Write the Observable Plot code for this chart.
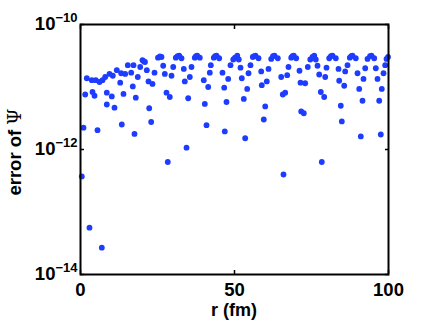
<!DOCTYPE html>
<html><head><meta charset="utf-8">
<script src="https://cdn.jsdelivr.net/npm/d3@7"></script>
<script src="https://cdn.jsdelivr.net/npm/@observablehq/plot@0.6"></script>
<style>body{margin:0;background:#fff} svg{display:block}</style>
</head><body><div id="chart"></div>
<script>
// r (fm) of each point
const r = [
 2.05,3.67,4.97,6.17,7.14,8.02,9.42,10.49,11.79,13.21,14.51,15.36,16.46,17.21,18.60,19.38,20.13,21.53,22.08,23.38,24.03,25.16,
 1.53,3.90,4.55,8.54,10.16,12.89,13.96,16.98,17.95,8.54,11.04,22.31,22.95,
 0.97,5.52,13.41,17.53,
 0.42,2.92,6.92,28.34,34.42,65.91,78.34,
 26.30,26.85,27.37,29.55,27.92,28.99,30.10,30.94,32.05,32.79,33.54,33.86,35.49,34.97,36.04,37.11,37.89,38.73,
 40.03,41.46,40.36,40.91,41.98,42.31,43.28,44.16,45.03,46.10,47.95,46.66,47.40,46.85,48.70,50.16,
 51.95,52.37,54.55,54.12,53.02,53.47,55.19,55.94,56.82,57.79,58.67,58.86,60.49,59.97,59.51,61.04,61.92,62.99,64.06,
 65.16,67.11,65.68,66.46,67.53,68.41,69.25,70.03,71.10,71.43,72.95,71.66,72.50,73.80,75.32,
 76.95,77.50,79.45,78.02,79.12,79.87,80.75,81.82,82.89,83.77,83.99,85.62,85.94,84.51,84.84,86.69,87.44,88.31,89.38,
 89.94,91.88,90.49,91.56,91.01,92.44,93.18,94.48,95.36,95.88,96.43,98.38,97.82,96.98,97.50,98.93,99.35,99.84,
 20.94,20.6,25.8,49.6,50.9,51.4,74.6,75.9,76.4,
 31.5,37.5,43.7,56.4,62.5,68.8,81.3,87.9,94.0
];
// log10 of the error of Psi for each point
const log10Err = [
 -10.86,-10.89,-10.89,-10.92,-10.89,-10.84,-10.79,-10.82,-10.73,-10.78,-10.79,-10.65,-10.77,-10.65,-10.84,-10.68,-10.57,-10.73,-10.91,-10.95,-10.77,-10.53,
 -11.12,-11.08,-11.14,-11.09,-11.15,-10.93,-11.11,-10.99,-11.17,-11.28,-11.33,-11.34,-11.56,
 -11.65,-11.69,-11.60,-11.75,
 -12.43,-13.25,-13.57,-12.20,-11.97,-12.40,-12.20,
 -10.52,-10.66,-10.79,-10.82,-11.09,-11.16,-10.68,-10.53,-10.50,-10.54,-10.71,-10.91,-10.84,-11.18,-10.68,-10.53,-10.50,-10.53,
 -10.89,-11.00,-11.27,-11.61,-10.77,-10.65,-10.53,-10.50,-10.54,-10.77,-10.87,-11.01,-11.24,-11.71,-10.65,-10.53,
 -10.69,-10.86,-10.78,-11.03,-11.19,-11.82,-10.65,-10.52,-10.50,-10.54,-10.75,-10.97,-10.91,-11.31,-11.52,-10.71,-10.55,-10.50,-10.54,
 -10.84,-10.81,-11.12,-11.09,-10.68,-10.53,-10.50,-10.54,-10.74,-10.93,-10.94,-11.39,-11.42,-10.68,-10.52,
 -10.66,-10.80,-10.84,-11.08,-11.16,-10.69,-10.54,-10.50,-10.54,-10.71,-10.90,-10.98,-10.75,-11.30,-11.55,-10.65,-10.53,-10.50,-10.54,
 -10.78,-10.87,-11.03,-11.22,-11.79,-10.70,-10.55,-10.50,-10.54,-10.70,-10.87,-10.78,-11.03,-11.22,-11.76,-10.65,-10.55,-10.52,
 -10.60,-10.59,-10.51,-10.56,-10.50,-10.56,-10.56,-10.50,-10.56,
 -10.505,-10.505,-10.505,-10.505,-10.505,-10.505,-10.505,-10.505,-10.505
];
const xTicks = [0, 50, 100];
const yTickExponents = [-14, -12, -10];
const xLabel = "r (fm)";
const yLabelText = "error of ";
const yLabelSymbol = "\u03A8";

const data = r.map((v, i) => ({r: v, err: Math.pow(10, log10Err[i])}));
const yTicks = yTickExponents.map(e => Math.pow(10, e));
const FONT = "'Liberation Sans', Arial, Helvetica, sans-serif";
const BLUE = "#1e3cff";

const chart = Plot.plot({
  width: 428, height: 322,
  marginLeft: 80, marginRight: 40, marginTop: 24, marginBottom: 48,
  style: {fontFamily: FONT, fontWeight: "bold", fontSize: "18.5px", color: "black", background: "white"},
  x: {domain: [0, 100]},
  y: {type: "log", domain: [1e-14, 1e-10]},
  marks: [
    Plot.dot(data, {x: "r", y: "err", r: 2.9, fill: BLUE, stroke: "none"}),
    Plot.axisX({anchor: "bottom", ticks: xTicks, tickSize: 0, tickPadding: 8, tickFormat: d => String(d), label: null}),
    Plot.axisX({anchor: "bottom", ticks: xTicks, tickSize: -4, strokeWidth: 1.5, tickFormat: () => "", label: null}),
    Plot.axisX({anchor: "top", ticks: xTicks, tickSize: -4, strokeWidth: 1.5, tickFormat: () => "", label: null}),
    Plot.axisY({anchor: "left", ticks: yTicks, tickSize: 0, tickPadding: 3, tickFormat: d => String(Math.round(Math.log10(d))), label: null}),
    Plot.axisY({anchor: "left", ticks: yTicks, tickSize: -4, strokeWidth: 1.5, tickFormat: () => "", label: null}),
    Plot.axisY({anchor: "right", ticks: yTicks, tickSize: -4, strokeWidth: 1.5, tickFormat: () => "", label: null}),
    Plot.frame({stroke: "black", strokeWidth: 2})
  ]
});

const svg = d3.select(chart);
// superscript exponents on y tick labels
svg.selectAll('g[aria-label="y-axis tick label"] text').each(function() {
  const t = d3.select(this);
  const txt = t.text().trim();
  if (!txt) return;
  const exp = "\u2212" + txt.replace(/^[-\u2212]/, "");
  t.text(null);
  t.append("tspan").text("10");
  t.append("tspan").attr("dy", "-0.62em").attr("font-size", "13px").text(exp);
});
// x label
svg.append("text")
  .attr("x", 234).attr("y", 316)
  .attr("text-anchor", "middle")
  .attr("font-family", FONT).attr("font-weight", "bold").attr("font-size", "18px")
  .attr("fill", "black")
  .text(xLabel);
// y label
const yl = svg.append("text")
  .attr("transform", "translate(21,152) rotate(-90)")
  .attr("text-anchor", "middle")
  .attr("font-family", FONT).attr("font-weight", "bold").attr("font-size", "18.5px")
  .attr("fill", "black");
yl.append("tspan").text(yLabelText);
yl.append("tspan").attr("font-family", "'DejaVu Serif', serif").attr("font-weight", "normal").text(yLabelSymbol);

document.getElementById("chart").appendChild(chart);
</script>
</body></html>
